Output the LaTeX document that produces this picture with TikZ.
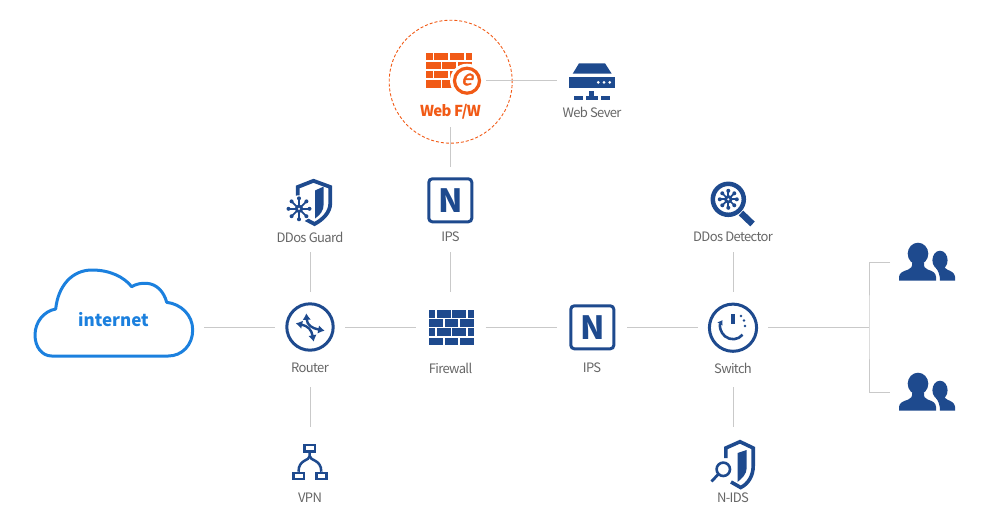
\documentclass[tikz,border=0pt]{standalone}
\usepackage{fontspec}
\usetikzlibrary{arrows.meta}
\setmainfont{Noto Sans CJK KR}
\newfontfamily\labfont[LetterSpace=-5]{Noto Sans CJK KR}
\newfontfamily\efont[FakeSlant=0.3,FakeBold=1.6]{Noto Sans CJK KR}
\definecolor{navy}{HTML}{1E4A8E}
\definecolor{fireor}{HTML}{F15A16}
\definecolor{linegray}{HTML}{C9C9C9}
\definecolor{txtgray}{HTML}{666666}
\definecolor{cloudblue}{HTML}{1B80DE}
\tikzset{
  slot/.style={inner sep=0pt,outer sep=0pt,minimum width=70pt,minimum height=70pt},
  lab/.style={inner sep=0pt,outer sep=0pt,minimum height=30pt,text=txtgray,font=\labfont\fontsize{13}{14}\selectfont},
  conn/.style={draw=linegray,line width=1pt},
  ico/.style={draw=navy,line width=3pt},
  nbox/.style={draw=navy,line width=3pt,rounded corners=3.5pt},
}
\newcommand{\brickwall}[5]{% x y xscale yscale colour
  \begin{scope}[shift={(#1,#2)},xscale=#3,yscale=#4]
    \foreach \ya/\yb in {0/7.5,18/25.5}{
      \foreach \xa/\xb in {0/6.7,8.3/22,23.7/37.3,39/45}{\fill[#5] (\xa,\ya) rectangle (\xb,\yb);}}
    \foreach \ya/\yb in {9/16.5,27.5/35}{
      \foreach \xa/\xb in {0/14.3,16/29.7,31.3/45}{\fill[#5] (\xa,\ya) rectangle (\xb,\yb);}}
  \end{scope}}
\newcommand{\flake}[3]{% x y r
  \begin{scope}[shift={(#1,#2)}]
    \foreach \a in {0,45,...,315}{
      \draw[navy,line width=1.7pt] (0,0) -- (\a:#3);
      \fill[navy] (\a:#3) circle (2pt);}
    \fill[navy] (0,0) circle (4.2pt);
    \fill[white] (0,0) circle (1.2pt);
  \end{scope}}
\newcommand{\person}[2]{% x y of group origin = left bottom
  \begin{scope}[shift={(#1,#2)}]
    \fill[navy] (1,0) -- (1,-4) .. controls (1.5,-8) and (5,-9.5) .. (10,-11) .. controls (13,-12) and (14.5,-14) .. (14,-18)
      -- (26,-18) .. controls (25.5,-14) and (27,-12) .. (30,-11) .. controls (35,-9.5) and (37.5,-8) .. (38,-4) -- (38,0) -- cycle;
    \fill[navy] (20,-27) ellipse[x radius=10.3pt,y radius=11pt];
    \fill[navy] (42,-20.5) ellipse[x radius=7.6pt,y radius=9.5pt];
    \fill[navy] (42,0) .. controls (42,-5) and (40.5,-10) .. (38,-12.5) -- (38,-16) -- (46.5,-16)
      .. controls (46,-13) and (47.5,-12) .. (49.5,-11) .. controls (53,-9.5) and (56.5,-8) .. (57,-4) -- (57,0) -- cycle;
  \end{scope}}
\begin{document}
\begin{tikzpicture}[x=1pt,y=-1pt]
\useasboundingbox (0,0) rectangle (986,523);
% cloud
\draw[cloudblue,line width=3pt,fill=white,line join=round]
  (51.7,356) .. controls (42,356) and (35,347) .. (35,335)
  .. controls (35,322) and (44,311) .. (55.7,309)
  .. controls (58,286) and (72,270) .. (92,270)
  .. controls (110,270) and (124,277) .. (131.7,286.7)
  .. controls (136,284) and (141,283) .. (146.7,283.3)
  .. controls (157,284) and (164,292) .. (166.7,302.3)
  .. controls (181,304) and (192.7,315) .. (192.7,330)
  .. controls (192.7,345) and (182,356) .. (168.3,356) -- cycle;
\node[inner sep=0pt,text=cloudblue,font=\fontsize{17}{20}\selectfont\bfseries] (internet) at (113.5,319.5) {internet};
\node[slot,minimum width=178pt,minimum height=90pt] (cloud) at (115,314) {};
% dashed circle
\node[circle,draw=fireor,line width=0.9pt,dash pattern=on 3pt off 2pt,minimum size=123pt,inner sep=0pt] (halo) at (450.7,81.7) {};
% slots
\node[slot] (webfw) at (451,80) {};
\node[slot] (server) at (592,80) {};
\node[slot,minimum height=66pt] (ipstop) at (450.5,200) {};
\node[slot] (guard) at (310,205) {};
\node[slot] (detect) at (733,205) {};
\node[slot] (router) at (310,327) {};
\node[slot] (fw) at (450.5,327) {};
\node[slot] (ipsmid) at (592,327) {};
\node[slot] (switch) at (733,327) {};
\node[slot] (vpn) at (310,462) {};
\node[slot] (nids) at (733,462) {};
\node[slot,minimum width=72pt,minimum height=40pt] (usera) at (926,262) {};
\node[slot,minimum width=72pt,minimum height=40pt] (userb) at (926,392) {};
\coordinate (junction) at (869,327);
% labels
\node[lab,text=fireor,font=\labfont\fontsize{15}{17}\selectfont\bfseries] (lwebfw) at (450.5,112) {Web F/W};
\node[lab] (lserver) at (592,112) {Web Sever};
\node[lab] (lguard) at (310,237) {DDos Guard};
\node[lab] (lipstop) at (450.5,237) {IPS};
\node[lab] (ldetect) at (733,237) {DDos Detector};
\node[lab,minimum height=38pt] (lrouter) at (310,368) {Router};
\node[lab,minimum height=38pt] (lfw) at (450.5,368) {Firewall};
\node[lab] (lipsmid) at (592,368) {IPS};
\node[lab,minimum height=38pt] (lswitch) at (733,368) {Switch};
\node[lab] (lvpn) at (310,498) {VPN};
\node[lab] (lnids) at (733,498) {N-IDS};
% connectors
\draw[conn] (cloud.east |- router.west) -- (router.west);
\draw[conn] (router.east) -- (fw.west);
\draw[conn] (fw.east) -- (ipsmid.west);
\draw[conn] (ipsmid.east) -- (switch.west);
\draw[conn] (switch.east) -- (junction);
\draw[conn] (usera.west) -| (junction) |- (userb.west);
\draw[conn] (webfw.east) -- (server.west);
\draw[conn] (lwebfw.south) -- (ipstop.north);
\draw[conn] (lguard.south) -- (router.north);
\draw[conn] (lipstop.south) -- (fw.north);
\draw[conn] (ldetect.south) -- (switch.north);
\draw[conn] (lrouter.south) -- (vpn.north);
\draw[conn] (lswitch.south) -- (nids.north);
% web firewall icon
\brickwall{426}{52.7}{1.02}{1.01}{fireor}
\fill[white] (467,80.7) circle (17pt);
\draw[fireor,line width=3.2pt] (467,80.7) circle (12.5pt);
\node[inner sep=0pt,text=fireor,font=\efont\fontsize{21}{21}\selectfont] (eglyph) at (466.5,79.5) {e};
% server icon
\fill[navy] (579,63.3) -- (605,63.3) -- (611.7,73.7) -- (572.7,73.7) -- cycle;
\fill[navy] (569,76.7) rectangle (615,88.3);
\foreach \dx in {598.3,604,609.7}{\fill[white] (\dx,82.4) circle (1.5pt);}
\fill[navy] (588.5,91) rectangle (593.5,96);
\fill[navy] (574.3,96) rectangle (583.3,100.3);
\fill[navy] (585.7,96) rectangle (598.3,100.3);
\fill[navy] (601,96) rectangle (610,100.3);
% IPS top
\draw[nbox] (428.8,178.8) rectangle (471.8,221.8);
\node[inner sep=0pt,text=navy,font=\fontsize{32}{32}\selectfont\bfseries] (ntop) at (450.3,200.5) {N};
% IPS mid
\draw[nbox] (570.8,305.8) rectangle (613.8,348.8);
\node[inner sep=0pt,text=navy,font=\fontsize{32}{32}\selectfont\bfseries] (nmid) at (592.3,327.5) {N};
% DDoS guard
\draw[navy,line width=3.8pt,line join=miter] (297.7,197) -- (297.7,187) -- (313.5,180.8) -- (330.3,187) -- (330.3,203) .. controls (330.3,213) and (322,220) .. (314.5,224) -- (305,219);
\fill[navy] (315,190.5) -- (323.7,186.5) -- (323.7,204) .. controls (323.7,211) and (320,215) .. (315,218.5) -- cycle;
\fill[white] (299,208.8) circle (13.5pt);
\flake{299}{208.8}{10.5}
% detector
\draw[navy,line width=4.5pt] (728.3,199.3) circle (15.5pt);
\draw[navy,line width=6.5pt] (741,213) -- (752.5,224);
\flake{728.3}{199.3}{8.5}
% router
\draw[ico] (310,327) circle (23.2pt);
\begin{scope}[navy,line width=2.4pt,{Latex[length=6.5pt,width=8.5pt]}-{Latex[length=6.5pt,width=8.5pt]}]
  \draw (306.3,313.3) .. controls (307,325) and (312,328.3) .. (324.7,330.7);
  \draw (295.7,323.3) .. controls (308,326) and (311.5,329.7) .. (313.7,341.7);
\end{scope}
% firewall
\brickwall{428.5}{310}{1}{1}{navy}
% switch
\draw[ico] (733,327.7) circle (23.6pt);
\fill[navy] (731,314) rectangle (735,324);
\draw[navy,line width=2.6pt,-{Latex[length=4.5pt,width=6.5pt]}] (733,326.7) ++(40:12.5) arc[start angle=-40,end angle=-212,radius=12.5pt];
\fill[navy] (745,326) circle (1.3pt) (744,320.5) circle (1.3pt) (741,316) circle (1.3pt);
% vpn
\begin{scope}[navy,line width=2.5pt]
  \draw (304.6,445.2) rectangle (314.8,451.5);
  \draw (293.6,472.9) rectangle (303.8,479);
  \draw (316.3,472.9) rectangle (326.5,479);
  \draw (309.7,452.7) -- (309.7,456) .. controls (309.7,461) and (298.5,459) .. (298.5,471.7);
  \draw (309.7,456) .. controls (309.7,461) and (321.3,459) .. (321.3,471.7);
\end{scope}
% n-ids
\draw[navy,line width=3.6pt,line join=miter] (725.8,458) -- (725.8,448) -- (740,441.7) -- (753.2,448) -- (753.2,466) .. controls (753.2,476) and (748,484) .. (740.7,487.5) -- (731,482);
\fill[navy] (737.5,453) -- (746.7,450) -- (746.7,468) .. controls (746.7,474) and (742,478.5) .. (737.5,482) -- cycle;
\fill[white] (723.3,469.3) circle (10pt);
\draw[navy,line width=2.6pt] (723.3,469.3) circle (6.7pt);
\draw[navy,line width=2.8pt] (718.5,474) -- (711.5,481.5);
% users
\person{898}{280.7}
\person{898}{410.7}
\end{tikzpicture}
\end{document}
